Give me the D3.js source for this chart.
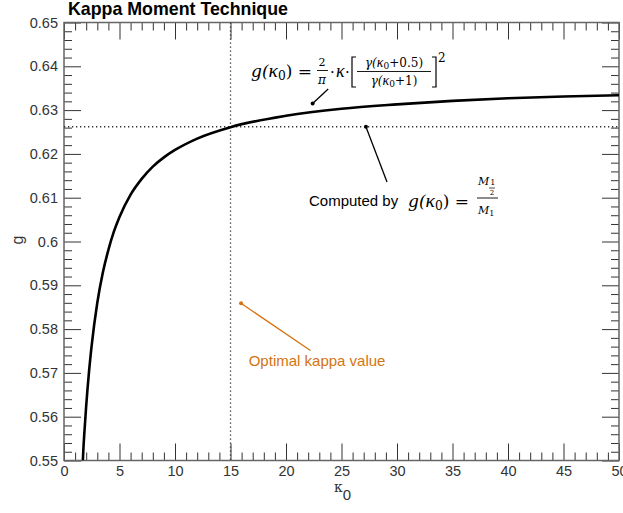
<!DOCTYPE html>
<html><head><meta charset="utf-8">
<script src="https://cdn.jsdelivr.net/npm/d3@7"></script>
<style>
body{margin:0;background:#fff;}
svg{display:block;}
</style></head>
<body><svg id="c" width="623" height="513"></svg>
<script>
// ---- data ----
const kappa = [1.7,1.75,1.85,2,2.25,2.5,3,3.5,4,4.5,5,6,7,8,9,10,12,15,20,25,30,35,40,45,50];
const gValues = [0.5500,0.5528,0.5569,0.5625,0.5702,0.5764,0.5860,0.5929,0.5981,0.6023,0.6056,0.6107,0.6143,0.6171,0.6192,0.6209,0.6235,0.6261,0.6287,0.6303,0.6313,0.6321,0.6327,0.6331,0.6334];
const xTicks = [0,5,10,15,20,25,30,35,40,45,50];
const yTicks = [0.55,0.56,0.57,0.58,0.59,0.6,0.61,0.62,0.63,0.64,0.65];
const yTickLabels = ["0.55","0.56","0.57","0.58","0.59","0.6","0.61","0.62","0.63","0.64","0.65"];
const optimalKappa = [15];
const optimalG = [0.6262];
const title = "Kappa Moment Technique";
const optimalLabel = "Optimal kappa value";

const svg = d3.select("#c");
const L=64, R=619, T=22.5, B=460.5;
const x = d3.scaleLinear().domain([0,50]).range([L,R]);
const y = d3.scaleLinear().domain([0.55,0.65]).range([B,T]);

const frameColor="#666", tickColor="#333", textColor="#333";
const sans="'Liberation Sans', Arial, Helvetica, sans-serif";
const serif="'DejaVu Serif','Liberation Serif',serif";
const kfont="'Liberation Serif',serif";

svg.append("defs").append("clipPath").attr("id","clip")
  .append("rect").attr("x",L).attr("y",T).attr("width",R-L).attr("height",B-T);

// ticks
const xMinor = d3.range(0,51,1), yMinor = d3.range(0,51).map(i=>0.55+i*0.002);
const bottomAx = d3.axisBottom(x).tickValues(xTicks).tickSize(-17).tickFormat(d3.format("d")).tickPadding(5);
const gB = svg.append("g").attr("transform",`translate(0,${B})`).call(bottomAx);
const gBm = svg.append("g").attr("transform",`translate(0,${B})`).call(d3.axisBottom(x).tickValues(xMinor.filter(d=>d%5)).tickSize(-8).tickFormat(""));
const gT = svg.append("g").attr("transform",`translate(0,${T})`).call(d3.axisTop(x).tickValues(xTicks).tickSize(-17).tickFormat(""));
const gTm = svg.append("g").attr("transform",`translate(0,${T})`).call(d3.axisTop(x).tickValues(xMinor.filter(d=>d%5)).tickSize(-8).tickFormat(""));
const gL = svg.append("g").attr("transform",`translate(${L},0)`).call(d3.axisLeft(y).tickValues(yTicks).tickSize(-17).tickPadding(6).tickFormat((d,i)=>yTickLabels[i]));
const gLm = svg.append("g").attr("transform",`translate(${L},0)`).call(d3.axisLeft(y).tickValues(yMinor.filter((d,i)=>i%5)).tickSize(-8).tickFormat(""));
const gR = svg.append("g").attr("transform",`translate(${R},0)`).call(d3.axisRight(y).tickValues(yTicks).tickSize(-17).tickFormat(""));
const gRm = svg.append("g").attr("transform",`translate(${R},0)`).call(d3.axisRight(y).tickValues(yMinor.filter((d,i)=>i%5)).tickSize(-8).tickFormat(""));
[gB,gBm,gT,gTm,gL,gLm,gR,gRm].forEach(g=>{
  g.select(".domain").remove();
  g.selectAll(".tick line").attr("stroke",tickColor).attr("stroke-width",1);
  g.selectAll("text").attr("fill",textColor).style("font-family",sans).style("font-size","14.5px");
});

// frame
svg.append("rect").attr("x",L).attr("y",T).attr("width",R-L).attr("height",B-T)
  .attr("fill","none").attr("stroke",frameColor).attr("stroke-width",1.5);

// dotted reference lines
svg.append("line").attr("x1",x(optimalKappa[0])).attr("x2",x(optimalKappa[0])).attr("y1",T).attr("y2",B)
  .attr("stroke","#333").attr("stroke-width",1.3).attr("stroke-dasharray","1.3,2.7");
svg.append("line").attr("x1",L).attr("x2",R).attr("y1",y(optimalG[0])).attr("y2",y(optimalG[0]))
  .attr("stroke","#333").attr("stroke-width",1.3).attr("stroke-dasharray","1.3,2.7");

// curve
const pts = kappa.map((k,i)=>[k,gValues[i]]);
svg.append("path").datum(pts).attr("clip-path","url(#clip)")
  .attr("d",d3.line().x(d=>x(d[0])).y(d=>y(d[1])).curve(d3.curveMonotoneX))
  .attr("fill","none").attr("stroke","#000").attr("stroke-width",2.6);

// title and axis labels
svg.append("text").attr("x",68).attr("y",15).text(title)
  .style("font-family",sans).style("font-weight","bold").style("font-size","17.8px").attr("fill","#000");
svg.append("text").attr("transform","translate(17,240) rotate(-90)").attr("text-anchor","middle")
  .attr("dy","0.35em")
  .text("g").style("font-family",sans).style("font-size","16px").attr("fill",textColor);
const xl = svg.append("text").attr("x",334).attr("y",492).attr("fill",textColor).style("font-family",serif);
xl.append("tspan").text("κ").style("font-size","14px");
xl.append("tspan").attr("dy",8).text("0").style("font-family",sans).style("font-size","15px");

// annotation helpers
function pointer(x1,y1,x2,y2,color){
  svg.append("line").attr("x1",x(x1)).attr("y1",y(y1)).attr("x2",x(x2)).attr("y2",y(y2))
    .attr("stroke",color).attr("stroke-width",1.3);
  svg.append("circle").attr("cx",x(x1)).attr("cy",y(y1)).attr("r",2).attr("fill",color);
}
pointer(22.4,0.6315,23.8,0.6348,"#000");
pointer(27.2,optimalG[0],29.1,0.6136,"#000");
const orange="#D4730F";
pointer(15.95,0.5859,22.2,0.5751,orange);
svg.append("text").attr("x",x(22.8)).attr("y",y(0.5716)).attr("text-anchor","middle")
  .text(optimalLabel).attr("fill",orange).style("font-family",sans).style("font-size","15px");

// formula helpers
function mt(xx,yy,txt,size,anchor){
  return svg.append("text").attr("x",xx).attr("y",yy).attr("text-anchor",anchor||"start")
    .attr("fill","#000").style("font-family",serif).style("font-style","italic").style("font-size",size+"px").text(txt);
}
function kap(t,size){
  return t.append("tspan").text("κ").style("font-family",kfont).style("font-style","italic").style("font-size",size+"px");
}
function gk(xx,yy,size){
  const t = svg.append("text").attr("x",xx).attr("y",yy).attr("fill","#000").style("font-family",serif).style("font-size",size+"px");
  t.append("tspan").text("g(").style("font-style","italic");
  kap(t,size*1.15);
  t.append("tspan").text("0").attr("dy",3).style("font-size",(size*0.72)+"px");
  t.append("tspan").text(") =").attr("dy",-3);
  return t;
}
// formula 1
gk(251,77,17);
mt(322,66,"2",11,"middle").style("font-style","normal");
svg.append("line").attr("x1",317).attr("x2",328).attr("y1",70.5).attr("y2",70.5).attr("stroke","#000").attr("stroke-width",0.9);
mt(322,84,"π",12,"middle");
mt(330,77,"·",15).style("font-style","normal");
kap(mt(336,77,"",15),18);
mt(345,77,"·",15).style("font-style","normal");
svg.append("path").attr("d","M356,57 L352,57 L352,87 L356,87 M432,57 L436,57 L436,87 L432,87")
  .attr("fill","none").attr("stroke","#000").attr("stroke-width",1.2);
(function(){
  const t = mt(394,67,"",12,"middle");
  t.append("tspan").text("γ(");
  kap(t,14);
  t.append("tspan").text("0").attr("dy",2).style("font-style","normal").style("font-size","9px");
  t.append("tspan").text("+0.5)").attr("dy",-2).style("font-style","normal");
  const b = mt(394,85,"",12,"middle");
  b.append("tspan").text("γ(");
  kap(b,14);
  b.append("tspan").text("0").attr("dy",2).style("font-style","normal").style("font-size","9px");
  b.append("tspan").text("+1)").attr("dy",-2).style("font-style","normal");
})();
svg.append("line").attr("x1",357).attr("x2",431).attr("y1",71.5).attr("y2",71.5).attr("stroke","#000").attr("stroke-width",0.9);
mt(438,62,"2",12).style("font-style","normal");

// formula 2
svg.append("text").attr("x",309).attr("y",206).text("Computed by").attr("fill","#000")
  .style("font-family",sans).style("font-size","15px");
gk(408,207,17);
(function(){
  const t = mt(478,185,"",11);
  t.append("tspan").text("M");
  t.append("tspan").text("1").attr("dx",1).style("font-style","normal").style("font-size","8px");
  svg.append("line").attr("x1",489).attr("x2",495).attr("y1",188).attr("y2",188).attr("stroke","#000").attr("stroke-width",0.7);
  mt(492,195,"2",7,"middle").style("font-style","normal");
  svg.append("line").attr("x1",477).attr("x2",498).attr("y1",198).attr("y2",198).attr("stroke","#000").attr("stroke-width",0.9);
  const b = mt(478,214,"",11);
  b.append("tspan").text("M");
  b.append("tspan").text("1").attr("dy",2).style("font-style","normal").style("font-size","8px");
})();
</script></body></html>
